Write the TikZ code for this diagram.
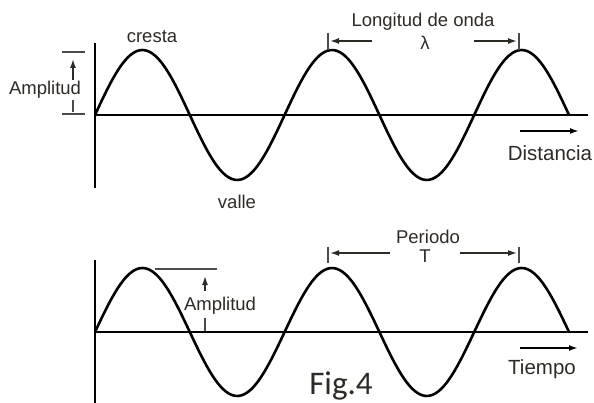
\documentclass[tikz,border=0pt]{standalone}
\usepackage{fontspec}
\setmainfont{Liberation Sans}
\newfontfamily\figfont{Carlito}
\usetikzlibrary{arrows.meta}
\definecolor{wink}{HTML}{2E2A26}
\tikzset{
  >={Latex[length=9pt,width=6pt]},
  waxis/.style={black, line width=2.6pt},
  wwave/.style={black, line width=2.6pt, line join=round},
  wtick/.style={wink!85, line width=1.4pt},
  wdim/.style={->, wink, line width=1.5pt},
  wdir/.style={->, black, line width=2.2pt},
  wlbl/.style={text=wink, font=\fontsize{18.5}{20}\selectfont, inner sep=1pt},
  wbig/.style={text=wink, font=\fontsize{20.5}{23}\selectfont, inner sep=1pt},
}

\begin{document}
\begin{tikzpicture}[x=1pt,y=-1pt]
  \useasboundingbox (0,0) rectangle (594,403);

  % onda en distancia
  \coordinate (o1) at (95,115);
  \draw[waxis] (95,43) -- (95,188);
  \draw[waxis] (o1) -- (588,115);
  \draw[wwave] plot[domain=0:474, samples=150, smooth]
       (\x+95, {115-65*sin(1.8987*\x)});

  \node[wlbl] (cresta) at (152,37) {cresta};
  \node[wlbl] (valle) at (237,202) {valle};

  % amplitud arriba
  \draw[wtick] (62,52) -- (85,52);
  \draw[wtick] (62,114) -- (85,114);
  \node[wlbl] (amp1) at (45,90) {Amplitud};
  \coordinate (amp1a) at (73,80);
  \coordinate (amp1b) at (73,59);
  \draw[wdim] (amp1a) -- (amp1b);
  \draw[wtick] (73,100) -- (73,112);

  % longitud de onda
  \node[wlbl] (lon) at (423,22) {Longitud de onda};
  \node[wlbl] (lam) at (425,43) {λ};
  \coordinate (lonL) at (330,41);
  \coordinate (lonR) at (517,41);
  \draw[wtick] (328,33) -- (328,50);
  \draw[wtick] (519,33) -- (519,50);
  \draw[wdim] (372,41) -- (lonL);
  \draw[wdim] (474,41) -- (lonR);

  % distancia
  \coordinate (dis0) at (520,131);
  \coordinate (dis1) at (579,131);
  \draw[wdir] (dis0) -- (dis1);
  \node[wbig] (dist) at (550,153) {Distancia};

  % onda en tiempo
  \draw[waxis] (95,260) -- (95,403);
  \draw[waxis] (95,332) -- (588,332);
  \draw[wwave] plot[domain=0:474, samples=150, smooth]
       (\x+95, {332-64*sin(1.8987*\x)});

  % amplitud abajo
  \draw[wtick] (155,269) -- (217,269);
  \node[wlbl] (amp2) at (220,306) {Amplitud};
  \coordinate (amp2a) at (205,291);
  \coordinate (amp2b) at (205,276);
  \draw[wdim] (amp2a) -- (amp2b);
  \draw[wtick] (205,318) -- (205,331);

  % periodo
  \node[wlbl] (per) at (428,237) {Periodo};
  \node[wlbl] (tee) at (425,256) {T};
  \coordinate (perL) at (330,253);
  \coordinate (perR) at (517,253);
  \draw[wtick] (328,247) -- (328,263);
  \draw[wtick] (519,247) -- (519,263);
  \draw[wdim] (390,253) -- (perL);
  \draw[wdim] (460,253) -- (perR);

  % tiempo
  \coordinate (tie0) at (520,348);
  \coordinate (tie1) at (578,348);
  \draw[wdir] (tie0) -- (tie1);
  \node[wbig] (tiempo) at (542,369) {Tiempo};

  \node[text=wink, font=\figfont\fontsize{33}{36}\selectfont, anchor=base] (fig) at (341,394) {Fig.4};

\end{tikzpicture}
\end{document}
